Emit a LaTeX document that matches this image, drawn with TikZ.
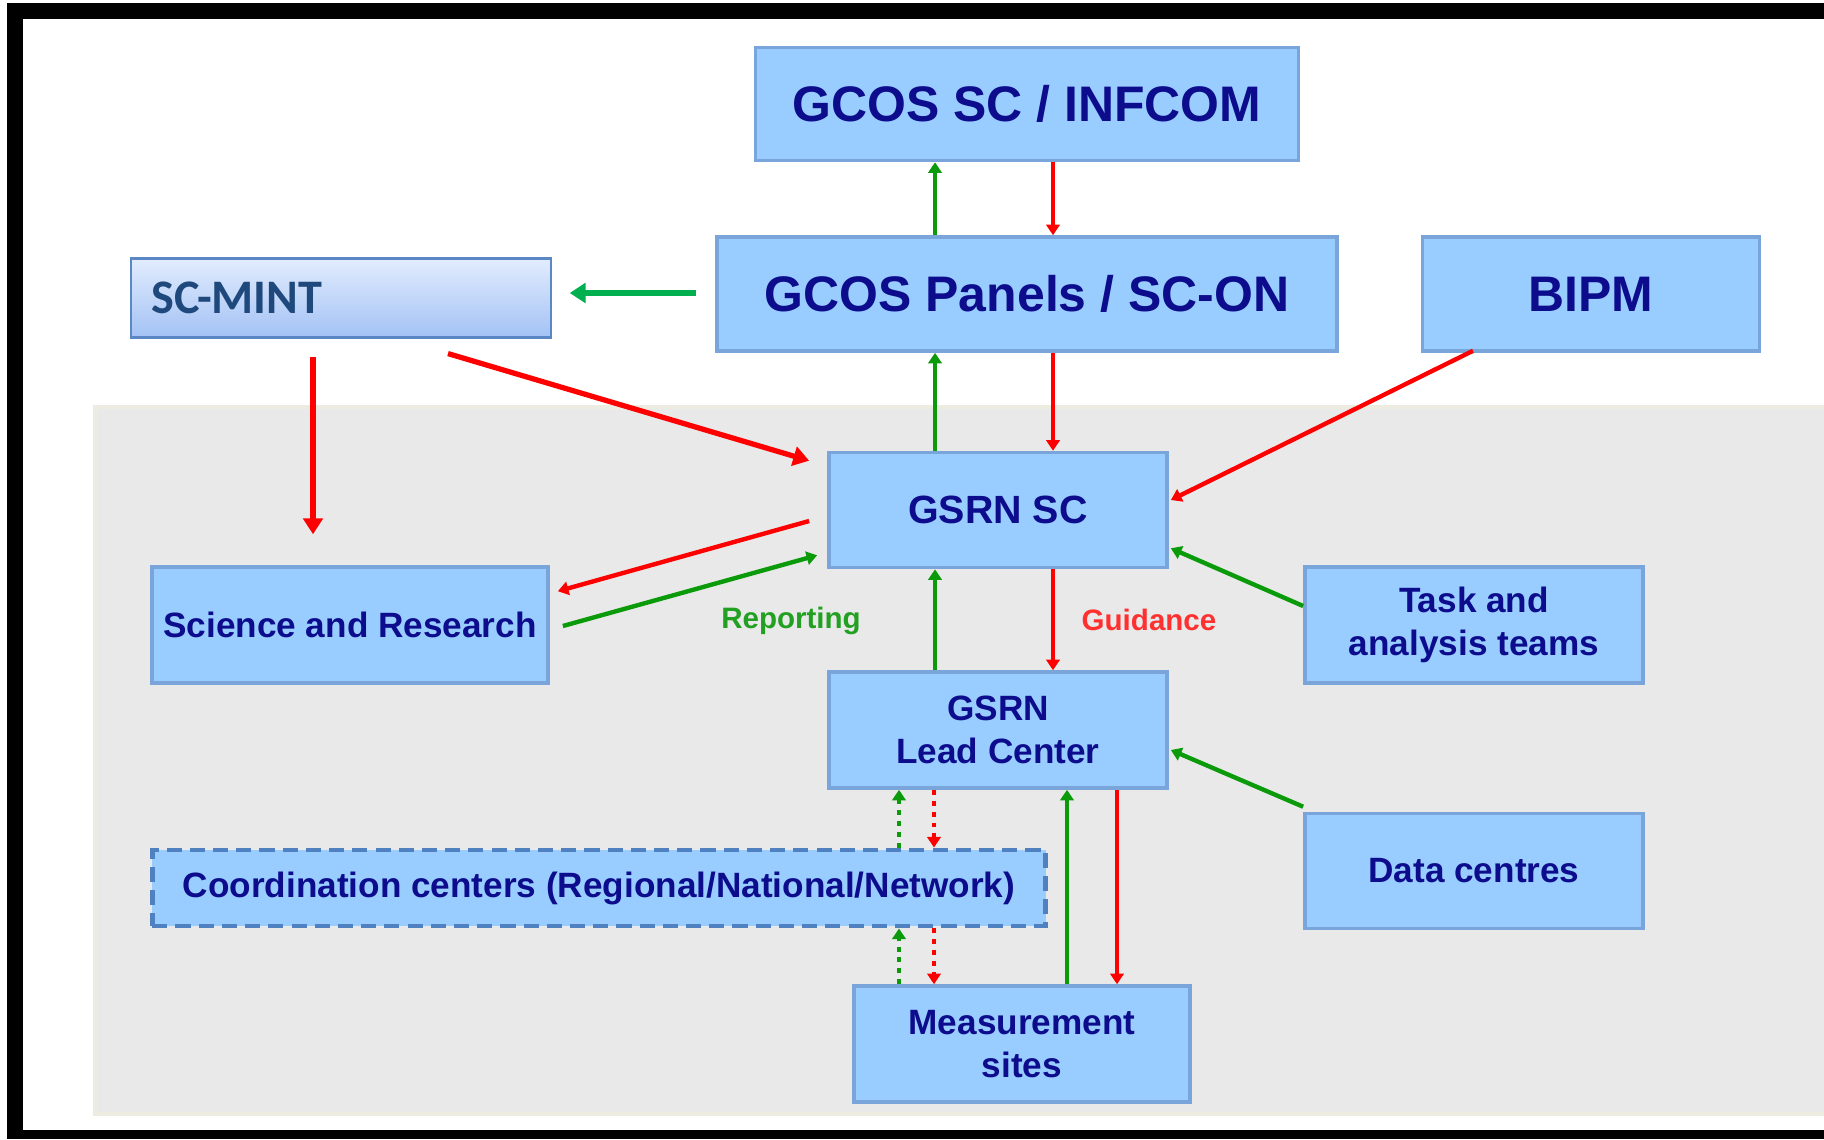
\documentclass[tikz,border=0pt]{standalone}
\usepackage{fontspec}
\setmainfont{Liberation Sans}
\newfontfamily\mintfont{Carlito}
\usetikzlibrary{arrows.meta,calc}

\definecolor{boxblue}{HTML}{99CCFF}
\definecolor{boxedge}{HTML}{7AA5DB}
\definecolor{navytext}{HTML}{0C0C8C}
\definecolor{arrowgreen}{HTML}{0A9A0A}
\definecolor{arrowred}{HTML}{FF0000}
\definecolor{mintgreen}{HTML}{00B050}
\definecolor{mintnavy}{HTML}{1F497D}
\definecolor{mintedge}{HTML}{5B87C5}
\definecolor{minttop}{HTML}{E2ECFD}
\definecolor{mintbottom}{HTML}{A3C2F5}
\definecolor{panelgray}{HTML}{E9E9E9}
\definecolor{grayedge}{HTML}{ECECE0}
\definecolor{coordedge}{HTML}{4F80C0}
\definecolor{reportgreen}{HTML}{22A022}
\definecolor{guidered}{HTML}{FF3030}

\tikzset{
  unitbox/.style={rectangle, draw=boxedge, fill=boxblue, line width=1pt, inner sep=0pt,
    align=center, text=navytext, minimum width=3.38cm, minimum height=1.16cm,
    font=\bfseries\fontsize{10}{12.4}\selectfont},
  bigbox/.style={unitbox, minimum height=1.14cm, font=\bfseries\fontsize{14.2}{17}\selectfont},
  coordbox/.style={unitbox, draw=coordedge, line width=1.4pt, dash pattern=on 4.3pt off 2.3pt},
  mintbox/.style={rectangle, draw=mintedge, line width=0.6pt, top color=minttop, bottom color=mintbottom,
    inner sep=0pt, minimum width=4.19cm, minimum height=0.79cm, text width=3.79cm, align=left,
    text=mintnavy, font=\mintfont\bfseries\fontsize{13.7}{16}\selectfont},
  flowlabel/.style={font=\bfseries\fontsize{8.4}{10}\selectfont},
  gup/.style={draw=arrowgreen, line width=1.25pt, -{Triangle[length=3pt,width=3.8pt]}},
  rdown/.style={draw=arrowred, line width=1.25pt, -{Triangle[length=3pt,width=3.8pt]}},
  gdot/.style={gup, line width=1pt, dash pattern=on 1.4pt off 1.7pt},
  rdot/.style={rdown, line width=1pt, dash pattern=on 1.4pt off 1.7pt},
  mintg/.style={draw=mintgreen, line width=1.5pt, -{Triangle[length=4.5pt,width=5.5pt]}},
  mintr/.style={draw=arrowred, line width=1.5pt, -{Triangle[length=4.5pt,width=5.5pt]}}
}

\begin{document}
\begin{tikzpicture}[x=0.01cm, y=-0.01cm]

    \useasboundingbox (0,0) rectangle (1824,1139);
    \fill[white] (0,0) rectangle (1824,1139);

    % frame and shaded area
    \fill[black] (7,3) rectangle (1824,19);
    \fill[black] (7,3) rectangle (23,1139);
    \fill[black] (7,1130) rectangle (1824,1139);
    \fill[panelgray] (95,407) rectangle (1824,1114);
    \draw[grayedge, line width=1pt] (1824,407) -- (95,407) -- (95,1114) -- (1824,1114);

    \coordinate (lanegu) at (935,0);
    \coordinate (lanerd) at (1053,0);
    \coordinate (lanedg) at (899,0);
    \coordinate (lanedr) at (934,0);
    \coordinate (lanemg) at (1067,0);
    \coordinate (lanemr) at (1117,0);

    \node[bigbox, minimum width=5.43cm, minimum height=1.13cm] (gcossc) at (1027,104) {GCOS SC / INFCOM};
    \node[bigbox, minimum width=6.20cm] (panels) at (1027,294) {GCOS Panels / SC-ON};
    \node[bigbox, minimum width=3.37cm] (bipm) at (1591,294) {BIPM};
    \node[mintbox] (scmint) at (341,298) {SC-MINT};

    \node[unitbox, minimum height=1.15cm, font=\bfseries\fontsize{11.2}{13}\selectfont] (gsrnsc) at (998,510) {GSRN SC};
    \node[unitbox, minimum width=3.96cm] (science) at (350,625) {Science and Research};
    \node[unitbox] (task) at (1474,625) {Task and\\analysis teams};
    \node[unitbox] (lead) at (998,730) {GSRN\\Lead Center};
    \node[unitbox, minimum height=1.15cm] (data) at (1474,871) {Data centres};
    \node[coordbox, minimum width=8.93cm, minimum height=0.76cm] (coord) at (599,888) {Coordination centers (Regional/National/Network)};
    \node[unitbox, minimum width=3.36cm] (meas) at (1022,1044) {Measurement\\sites};

    \draw[gup] (panels.north -| lanegu) -- (gcossc.south -| lanegu);
    \draw[rdown] (gcossc.south -| lanerd) -- (panels.north -| lanerd);

    \draw[mintg] ($(panels.west)+(-19,-1)$) -- ($(scmint.east)+(18,-5)$);
    \draw[mintr] ($(scmint.south)+(107,15)$) -- ($(gsrnsc.north west)+(-18,10)$);
    \draw[mintr] ($(scmint.south)+(-28,18)$) -- ($(science.north)+(-37,-31)$);

    \draw[gup] (gsrnsc.north -| lanegu) -- (panels.south -| lanegu);
    \draw[rdown] (panels.south -| lanerd) -- (gsrnsc.north -| lanerd);
    \draw[rdown] ($(bipm.south)+(-118,-2)$) -- ($(gsrnsc.east)+(2,-10)$);

    \draw[rdown] ($(gsrnsc.west)+(-18,11)$) -- ($(science.north east)+(8,26)$);
    \draw[gup] ($(science.east)+(13,1)$) -- ($(gsrnsc.south west)+(-10,-14)$);
    \node[flowlabel, text=reportgreen] (reporting) at (791,621) {Reporting};
    \node[flowlabel, text=guidered] (guidance) at (1149,620) {Guidance};

    \draw[gup] (lead.north -| lanegu) -- (gsrnsc.south -| lanegu);
    \draw[rdown] (gsrnsc.south -| lanerd) -- (lead.north -| lanerd);
    \draw[gup] ($(task.west)+(0,-19)$) -- ($(gsrnsc.south east)+(2,-21)$);
    \draw[gup] ($(data.north west)+(0,-5)$) -- ($(lead.east)+(2,20)$);

    \draw[gdot] (coord.north -| lanedg) -- (lead.south -| lanedg);
    \draw[rdot] (lead.south -| lanedr) -- (coord.north -| lanedr);
    \draw[gdot] (meas.north -| lanedg) -- (coord.south -| lanedg);
    \draw[rdot] (coord.south -| lanedr) -- (meas.north -| lanedr);

    \draw[gup] (meas.north -| lanemg) -- (lead.south -| lanemg);
    \draw[rdown] (lead.south -| lanemr) -- (meas.north -| lanemr);

\end{tikzpicture}
\end{document}
